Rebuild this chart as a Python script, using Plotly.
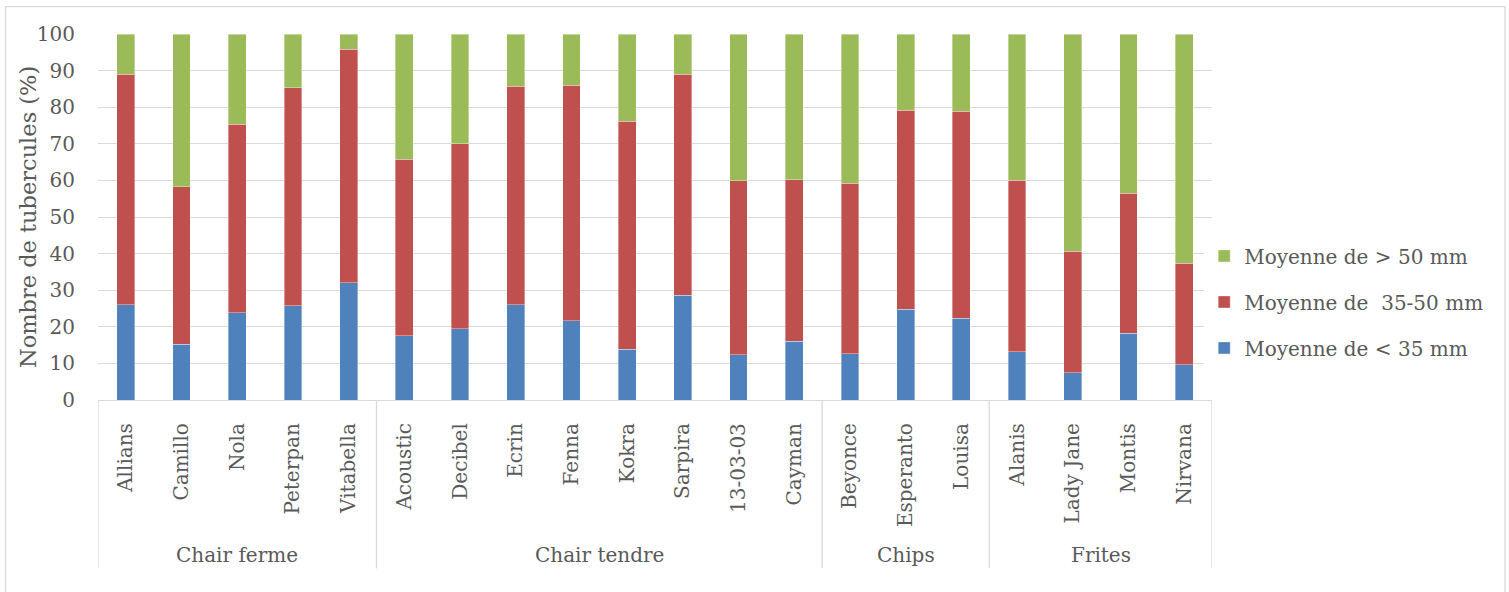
import plotly.graph_objects as go

groups = ["Chair ferme", "Chair tendre", "Chips", "Frites"]
group_members = [
    ["Allians", "Camillo", "Nola", "Peterpan", "Vitabella"],
    ["Acoustic", "Decibel", "Ecrin", "Fenna", "Kokra", "Sarpira", "13-03-03", "Cayman"],
    ["Beyonce", "Esperanto", "Louisa"],
    ["Alanis", "Lady Jane", "Montis", "Nirvana"],
]
varieties = [v for g in group_members for v in g]

small = [26, 15.3, 23.9, 25.8, 32.0,
         17.5, 19.5, 26.0, 21.6, 13.9, 28.6, 12.3, 16.1,
         12.7, 24.8, 22.4,
         13.2, 7.4, 18.2, 9.7]
cum_mid = [89.0, 58.3, 75.3, 85.3, 95.8,
           65.8, 70.0, 85.7, 86.0, 76.1, 89.0, 59.9, 60.2,
           59.2, 79.1, 78.9,
           60.1, 40.6, 56.5, 37.3]
medium = [round(c - s, 1) for c, s in zip(cum_mid, small)]
large = [round(100 - c, 1) for c in cum_mid]

series_names = ["Moyenne de < 35 mm", "Moyenne de  35-50 mm", "Moyenne de > 50 mm"]
series_values = [small, medium, large]
colors = ["#4F81BD", "#C0504D", "#9BBB59"]
y_ticks = list(range(0, 101, 10))

FONT = "DejaVu Serif"
TXT = "#595959"
GRID = "#D9D9D9"

fig = go.Figure()
for i, (name, vals, col) in enumerate(zip(series_names, series_values, colors)):
    fig.add_trace(go.Bar(
        x=varieties, y=vals, name=name, marker_color=col,
        marker_line=dict(width=0.6, color="rgba(255,255,255,0.6)"),
        legendgroup=f"g{i}", legendrank=1000 - i,
    ))

shapes = []
annotations = []
start = 0
bounds = [-0.5]
for g, members in zip(groups, group_members):
    n = len(members)
    center = start + (n - 1) / 2
    annotations.append(dict(
        x=center, y=-0.423, xref="x", yref="paper", text=g, showarrow=False,
        font=dict(family=FONT, size=20, color=TXT), yanchor="middle"))
    start += n
    bounds.append(start - 0.5)
for b in bounds:
    shapes.append(dict(type="line", xref="x", yref="paper", x0=b, x1=b,
                       y0=0, y1=-0.46, line=dict(color=GRID, width=1.3)))
# y-axis title
annotations.append(dict(
    x=-0.0628, y=0.5, xref="paper", yref="paper", text="Nombre de tubercules (%)",
    textangle=-90, showarrow=False, xanchor="center", yanchor="middle",
    font=dict(family=FONT, size=22.5, color=TXT)))
# outer chart border
shapes.append(dict(type="rect", xref="paper", yref="paper",
                   x0=-0.083, x1=1.263, y0=-0.56, y1=1.075,
                   line=dict(color=GRID, width=1.3), fillcolor="rgba(0,0,0,0)", layer="below"))

fig.update_layout(
    barmode="stack",
    bargap=0.68,
    width=1509, height=592,
    margin=dict(l=98, r=297, t=34, b=192),
    paper_bgcolor="white", plot_bgcolor="white",
    font=dict(family=FONT, size=20, color=TXT),
    legend=dict(x=0.993, xanchor="left", y=0.268, yanchor="middle",
                traceorder="grouped", tracegroupgap=17,
                font=dict(family=FONT, size=20, color=TXT)),
    shapes=shapes,
    annotations=annotations,
)
fig.update_xaxes(
    type="category",
    range=[-0.5, len(varieties) - 0.5], tickangle=-90, showgrid=False,
    showline=True, linecolor=GRID, linewidth=1.3, ticks="",
    ticklabelstandoff=14, tickfont=dict(family=FONT, size=20, color=TXT),
)
fig.update_yaxes(
    range=[0, 100], tickvals=y_ticks, showgrid=True, gridcolor=GRID, gridwidth=1.3,
    zeroline=False, showline=False, ticks="", ticklabelstandoff=22,
    tickfont=dict(family=FONT, size=20, color=TXT),
)
fig.write_html("out.html", config={"displayModeBar": False},
               post_script="document.body.style.margin='0';")
